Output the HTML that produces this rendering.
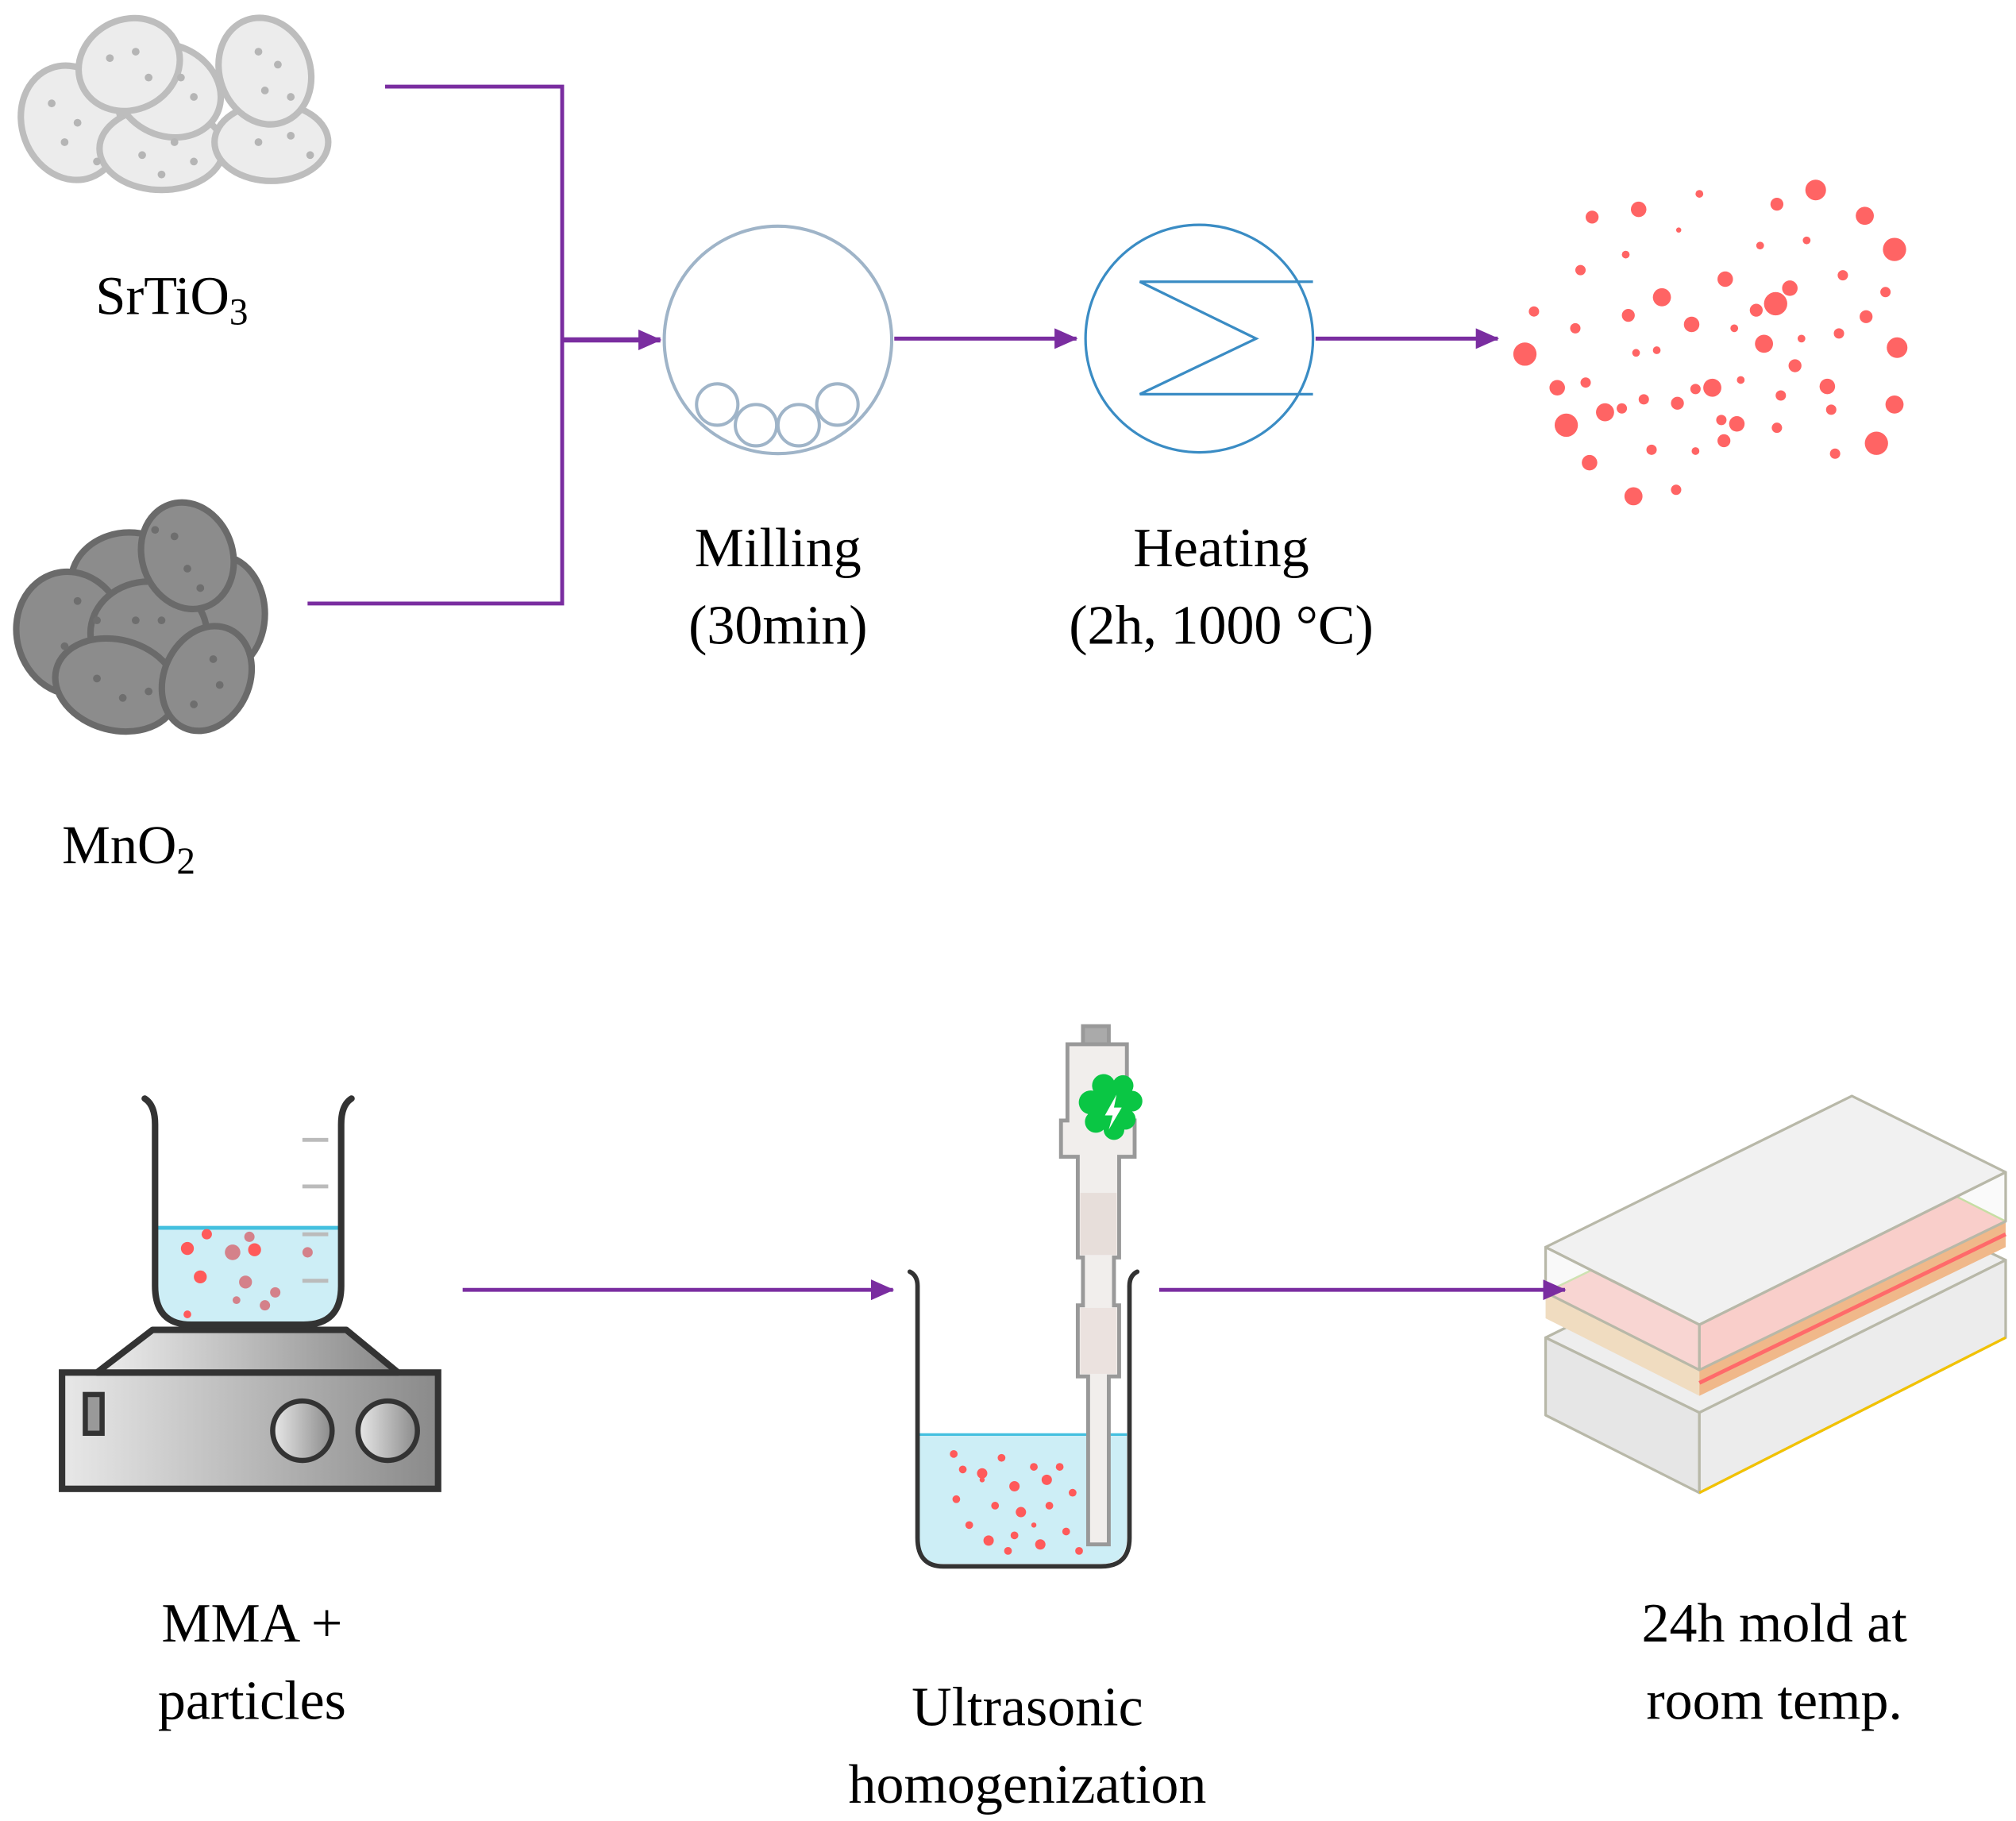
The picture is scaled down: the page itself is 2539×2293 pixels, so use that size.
<!DOCTYPE html>
<html><head><meta charset="utf-8"><style>
html,body{margin:0;padding:0;background:#fff}
svg{display:block}
text{font-family:"Liberation Serif",serif;fill:#000}
</style></head><body>
<svg width="2539" height="2293" viewBox="0 0 1560 1409" preserveAspectRatio="none" xmlns="http://www.w3.org/2000/svg">
<defs>
<marker id="ar" markerWidth="18" markerHeight="16" refX="17" refY="8" orient="auto" markerUnits="userSpaceOnUse" viewBox="0 0 18 16"><path d="M0,0 L18,8 L0,16 Z" fill="#7a2da0"/></marker>
<linearGradient id="gp" x1="0" x2="1"><stop offset="0" stop-color="#e8e8e8"/><stop offset="1" stop-color="#8a8a8a"/></linearGradient>
<linearGradient id="gp2" x1="0" x2="1"><stop offset="0" stop-color="#eee"/><stop offset="1" stop-color="#888"/></linearGradient>
</defs>

<!-- SrTiO3 cluster -->
<g fill="#ececec" stroke="#bdbdbd" stroke-width="5">
<ellipse cx="55" cy="95" rx="38" ry="45" transform="rotate(-20 55 95)"/>
<ellipse cx="125" cy="115" rx="48" ry="32"/>
<ellipse cx="210" cy="110" rx="44" ry="30"/>
<ellipse cx="130" cy="70" rx="42" ry="35" transform="rotate(25 130 70)"/>
<ellipse cx="100" cy="50" rx="40" ry="35" transform="rotate(-25 100 50)"/>
<ellipse cx="205" cy="55" rx="35" ry="42" transform="rotate(-20 205 55)"/>
</g>
<g fill="#b5b5b5">
<circle cx="40" cy="80" r="3"/><circle cx="60" cy="95" r="3"/><circle cx="50" cy="110" r="3"/><circle cx="75" cy="125" r="3"/>
<circle cx="110" cy="120" r="3"/><circle cx="135" cy="110" r="3"/><circle cx="150" cy="125" r="3"/><circle cx="125" cy="135" r="3"/>
<circle cx="85" cy="45" r="3"/><circle cx="105" cy="40" r="3"/><circle cx="115" cy="60" r="3"/><circle cx="140" cy="60" r="3"/><circle cx="150" cy="75" r="3"/>
<circle cx="200" cy="40" r="3"/><circle cx="215" cy="50" r="3"/><circle cx="205" cy="70" r="3"/><circle cx="225" cy="75" r="3"/>
<circle cx="200" cy="110" r="3"/><circle cx="225" cy="105" r="3"/><circle cx="240" cy="120" r="3"/>
</g>

<!-- MnO2 cluster -->
<g fill="#8c8c8c" stroke="#6a6a6a" stroke-width="5">
<ellipse cx="100" cy="450" rx="45" ry="38"/>
<ellipse cx="170" cy="475" rx="35" ry="45"/>
<ellipse cx="55" cy="490" rx="42" ry="48" transform="rotate(-15 55 490)"/>
<ellipse cx="115" cy="490" rx="45" ry="40"/>
<ellipse cx="145" cy="430" rx="35" ry="42" transform="rotate(-20 145 430)"/>
<ellipse cx="90" cy="530" rx="48" ry="35" transform="rotate(15 90 530)"/>
<ellipse cx="160" cy="525" rx="33" ry="42" transform="rotate(25 160 525)"/>
</g>
<g fill="#6e6e6e">
<circle cx="120" cy="410" r="3"/><circle cx="135" cy="415" r="3"/><circle cx="145" cy="440" r="3"/><circle cx="155" cy="455" r="3"/>
<circle cx="60" cy="465" r="3"/><circle cx="75" cy="480" r="3"/><circle cx="50" cy="500" r="3"/><circle cx="105" cy="480" r="3"/><circle cx="125" cy="480" r="3"/>
<circle cx="75" cy="525" r="3"/><circle cx="95" cy="540" r="3"/><circle cx="115" cy="535" r="3"/><circle cx="165" cy="510" r="3"/><circle cx="150" cy="545" r="3"/><circle cx="170" cy="530" r="3"/>
</g>

<!-- top labels -->
<text x="74" y="243" font-size="42">SrTiO<tspan font-size="29" dy="8">3</tspan></text>
<text x="48" y="668" font-size="42">MnO<tspan font-size="29" dy="8">2</tspan></text>
<text x="602" y="438" font-size="43" text-anchor="middle">Milling</text>
<text x="602" y="498" font-size="43" text-anchor="middle">(30min)</text>
<text x="945" y="438" font-size="43" text-anchor="middle">Heating</text>
<text x="945" y="498" font-size="43" text-anchor="middle">(2h, 1000 °C)</text>

<!-- connectors -->
<g stroke="#7a2da0" stroke-width="3" fill="none">
<polyline points="298,67 435,67 435,467 238,467"/>
<line x1="435" y1="263" x2="511" y2="263" stroke-width="4" marker-end="url(#ar)"/>
<line x1="692" y1="262" x2="833" y2="262" marker-end="url(#ar)"/>
<line x1="1018" y1="262" x2="1159" y2="262" marker-end="url(#ar)"/>
<line x1="358" y1="998" x2="691" y2="998" marker-end="url(#ar)"/>
</g>

<!-- mill -->
<g fill="none" stroke="#9fb4c8" stroke-width="2.5">
<circle cx="602" cy="263" r="88"/>
<circle cx="555" cy="313" r="16"/><circle cx="585" cy="329" r="16"/><circle cx="618" cy="329" r="16"/><circle cx="648" cy="313" r="16"/>
</g>
<!-- heater -->
<g fill="none" stroke="#3a8cc4" stroke-width="2">
<circle cx="928" cy="262" r="88"/>
<polyline points="1016,218 882,218 972,262 882,305 1016,305"/>
</g>

<!-- red dots -->
<g fill="#ff6464">
<circle cx="1232" cy="168" r="5"/><circle cx="1268" cy="162" r="6"/><circle cx="1315" cy="150" r="3"/><circle cx="1375" cy="158" r="5"/><circle cx="1405" cy="147" r="8"/><circle cx="1443" cy="167" r="7"/><circle cx="1466" cy="193" r="9"/><circle cx="1299" cy="178" r="2"/><circle cx="1258" cy="197" r="3"/><circle cx="1223" cy="209" r="4"/><circle cx="1362" cy="190" r="3"/><circle cx="1398" cy="186" r="3"/><circle cx="1426" cy="213" r="4"/><circle cx="1286" cy="230" r="7"/><circle cx="1335" cy="216" r="6"/><circle cx="1374" cy="235" r="9"/><circle cx="1359" cy="240" r="5"/><circle cx="1385" cy="223" r="6"/><circle cx="1309" cy="251" r="6"/><circle cx="1260" cy="244" r="5"/><circle cx="1444" cy="245" r="5"/><circle cx="1459" cy="226" r="4"/><circle cx="1187" cy="241" r="4"/><circle cx="1219" cy="254" r="4"/><circle cx="1180" cy="274" r="9"/><circle cx="1342" cy="254" r="3"/><circle cx="1365" cy="266" r="7"/><circle cx="1394" cy="262" r="3"/><circle cx="1423" cy="258" r="4"/><circle cx="1468" cy="269" r="8"/><circle cx="1205" cy="300" r="6"/><circle cx="1227" cy="296" r="4"/><circle cx="1242" cy="319" r="7"/><circle cx="1212" cy="329" r="9"/><circle cx="1255" cy="316" r="4"/><circle cx="1266" cy="273" r="3"/><circle cx="1282" cy="271" r="3"/><circle cx="1272" cy="309" r="4"/><circle cx="1298" cy="312" r="5"/><circle cx="1312" cy="301" r="4"/><circle cx="1325" cy="300" r="7"/><circle cx="1332" cy="325" r="4"/><circle cx="1344" cy="328" r="6"/><circle cx="1347" cy="294" r="3"/><circle cx="1378" cy="306" r="4"/><circle cx="1414" cy="299" r="6"/><circle cx="1417" cy="317" r="4"/><circle cx="1466" cy="313" r="7"/><circle cx="1278" cy="348" r="4"/><circle cx="1312" cy="349" r="3"/><circle cx="1334" cy="341" r="5"/><circle cx="1375" cy="331" r="4"/><circle cx="1230" cy="358" r="6"/><circle cx="1297" cy="379" r="4"/><circle cx="1264" cy="384" r="7"/><circle cx="1420" cy="351" r="4"/><circle cx="1452" cy="343" r="9"/><circle cx="1389" cy="283" r="5"/>
</g>

<!-- hot plate -->
<rect x="48" y="1062" width="291" height="90" fill="url(#gp)" stroke="#333" stroke-width="5"/>
<polygon points="75,1062 118,1029 268,1029 308,1062" fill="url(#gp2)" stroke="#333" stroke-width="5" stroke-linejoin="round"/>
<rect x="66" y="1079" width="13" height="30" fill="#999" stroke="#333" stroke-width="4"/>
<circle cx="234" cy="1107" r="23" fill="url(#gp)" stroke="#333" stroke-width="4"/>
<circle cx="300" cy="1107" r="23" fill="url(#gp)" stroke="#333" stroke-width="4"/>
<!-- beaker 1 -->
<path d="M120,950 L264,950 L264,995 Q264,1025 235,1025 L148,1025 Q120,1025 120,995 Z" fill="#cdeef6"/>
<line x1="120" y1="950" x2="264" y2="950" stroke="#44c0df" stroke-width="3"/>
<g fill="#ff5a5a"><circle cx="145" cy="966" r="5"/><circle cx="160" cy="955" r="4"/><circle cx="155" cy="988" r="5"/><circle cx="197" cy="967" r="5"/><circle cx="145" cy="1017" r="3"/></g>
<g fill="#d4818a"><circle cx="180" cy="969" r="6"/><circle cx="193" cy="957" r="4"/><circle cx="213" cy="1000" r="4"/><circle cx="190" cy="992" r="5"/><circle cx="238" cy="969" r="4"/><circle cx="183" cy="1006" r="3"/><circle cx="205" cy="1010" r="4"/></g>
<g stroke="#bbb" stroke-width="3"><line x1="234" y1="882" x2="254" y2="882"/><line x1="234" y1="918" x2="254" y2="918"/><line x1="234" y1="955" x2="254" y2="955"/><line x1="234" y1="991" x2="254" y2="991"/></g>
<path d="M112,850 Q120,855 120,870 L120,995 Q120,1025 148,1025 L235,1025 Q264,1025 264,995 L264,870 Q264,855 272,850" fill="none" stroke="#333" stroke-width="5" stroke-linecap="round"/>

<!-- ultrasonic beaker -->
<path d="M710,1110 L872,1110 L872,1190 Q872,1210 852,1210 L730,1210 Q710,1210 710,1190 Z" fill="#cdeef6"/>
<line x1="710" y1="1110" x2="872" y2="1110" stroke="#44c0df" stroke-width="2"/>
<g fill="#ff5a5a">
<circle cx="738" cy="1125" r="3"/><circle cx="745" cy="1137" r="3"/><circle cx="760" cy="1140" r="4"/><circle cx="775" cy="1128" r="3"/><circle cx="785" cy="1150" r="4"/><circle cx="800" cy="1135" r="3"/><circle cx="810" cy="1145" r="4"/><circle cx="820" cy="1135" r="3"/><circle cx="740" cy="1160" r="3"/><circle cx="770" cy="1165" r="3"/><circle cx="790" cy="1170" r="4"/><circle cx="812" cy="1165" r="3"/><circle cx="830" cy="1155" r="3"/><circle cx="750" cy="1180" r="3"/><circle cx="765" cy="1192" r="4"/><circle cx="785" cy="1188" r="3"/><circle cx="805" cy="1195" r="4"/><circle cx="825" cy="1185" r="3"/><circle cx="835" cy="1200" r="3"/><circle cx="760" cy="1145" r="2"/><circle cx="800" cy="1180" r="2"/><circle cx="845" cy="1135" r="3"/><circle cx="780" cy="1200" r="3"/>
</g>
<!-- probe -->
<g stroke="#999" stroke-width="3">
<rect x="838" y="794" width="20" height="14" fill="#aaa"/>
<path d="M826,808 L872,808 L872,867 L878,867 L878,895 L866,895 L866,973 L862,973 L862,1010 L866,1010 L866,1065 L858,1065 L858,1195 L842,1195 L842,1065 L834,1065 L834,1010 L838,1010 L838,973 L834,973 L834,895 L821,895 L821,867 L826,867 Z" fill="#f1eeec"/>
</g>
<rect x="836" y="923" width="28" height="48" fill="#e5d9d6" opacity=".8"/>
<rect x="836" y="1012" width="28" height="51" fill="#eadfdc" opacity=".8"/>
<path d="M862,836 a8,8 0 0 1 14,8 a8,8 0 0 1 0,16 a8,8 0 0 1 -6,14 a8,8 0 0 1 -16,0 a8,8 0 0 1 -12,-12 a8,8 0 0 1 4,-18 a8,8 0 0 1 16,-8 Z" fill="#0ac644"/>
<path d="M864,847 L855,863 L861,863 L858,874 L868,857 L862,857 Z" fill="#fff"/>
<path d="M704,984 Q710,987 710,995 L710,1190 Q710,1212 730,1212 L852,1212 Q874,1212 874,1190 L874,995 Q874,987 880,984" fill="none" stroke="#333" stroke-width="3.5" stroke-linecap="round"/>

<!-- mold -->
<g stroke-linejoin="round">
<polygon points="1196,1035 1433,918 1552,975 1315,1093" fill="#eee" stroke="#b8b8a8" stroke-width="2"/>
<polygon points="1196,1035 1315,1093 1315,1155 1196,1095" fill="#e6e6e6" stroke="#b8b8a8" stroke-width="2"/>
<polygon points="1315,1093 1552,975 1552,1035 1315,1155" fill="#ececec" stroke="#b8b8a8" stroke-width="2"/>
<line x1="1315" y1="1155" x2="1552" y2="1035" stroke="#f2c200" stroke-width="2"/>
<polygon points="1196,1000 1315,1060 1315,1080 1196,1020" fill="#f0dcc0"/>
<polygon points="1315,1060 1552,945 1552,965 1315,1080" fill="#f0b88a"/>
<polygon points="1196,1000 1433,885 1552,945 1315,1060" fill="#fdb6b0" stroke="#a8d070" stroke-width="1.5"/>
<line x1="1315" y1="1070" x2="1552" y2="955" stroke="#ff6a6a" stroke-width="3"/>
<line x1="1315" y1="1060" x2="1552" y2="945" stroke="#f2c200" stroke-width="1.5"/>
<polygon points="1196,965 1433,848 1552,907 1315,1025" fill="#f1f1f1" stroke="#b8b8a8" stroke-width="2"/>
<polygon points="1196,965 1315,1025 1315,1060 1196,1000" fill="#f3f3f3" fill-opacity=".5" stroke="#b8b8a8" stroke-width="2"/>
<polygon points="1315,1025 1552,907 1552,945 1315,1060" fill="#f3f3f3" fill-opacity=".4" stroke="#b8b8a8" stroke-width="2"/>
</g>
<line x1="897" y1="998" x2="1211" y2="998" stroke="#7a2da0" stroke-width="3" marker-end="url(#ar)"/>

<!-- bottom labels -->
<text x="195" y="1270" font-size="43" text-anchor="middle">MMA +</text>
<text x="195" y="1330" font-size="43" text-anchor="middle">particles</text>
<text x="795" y="1335" font-size="43" text-anchor="middle">Ultrasonic</text>
<text x="795" y="1395" font-size="43" text-anchor="middle">homogenization</text>
<text x="1373" y="1270" font-size="43" text-anchor="middle">24h mold at</text>
<text x="1373" y="1330" font-size="43" text-anchor="middle">room temp.</text>
</svg>
</body></html>
